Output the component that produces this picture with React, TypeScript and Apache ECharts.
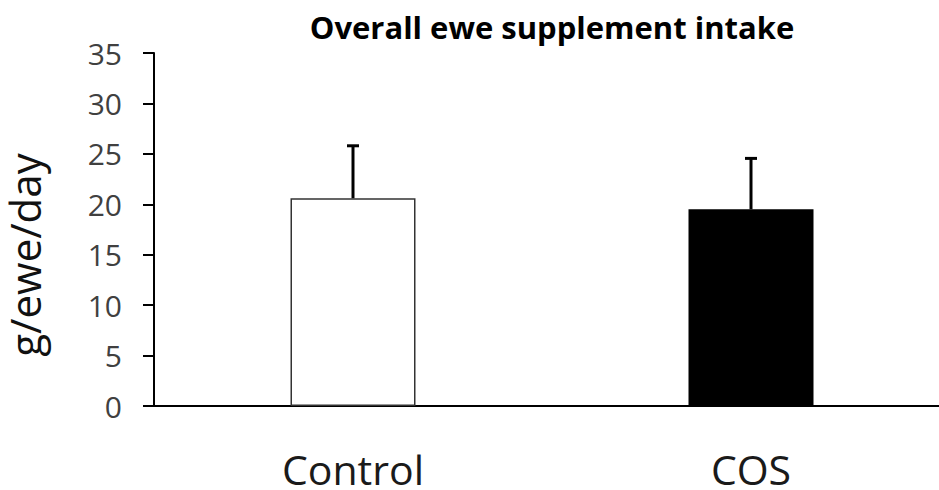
import React, { useEffect, useRef } from "react";
import * as echarts from "echarts";

const categories = ["Control", "COS"];
const means = [20.6, 19.5];
const errors = [5.2, 5.05];
const barColors = ["#ffffff", "#000000"];
const titleText = "Overall ewe supplement intake";
const yAxisTitle = "g/ewe/day";

export default function App() {
  const ref = useRef<HTMLDivElement>(null);
  useEffect(() => {
    if (!ref.current) return;
    const chart = echarts.init(ref.current, null, { renderer: "svg" });
    const font = "'Open Sans', sans-serif";
    chart.setOption({
      animation: false,
      backgroundColor: "#ffffff",
      title: {
        text: titleText,
        left: 547,
        top: 4,
        textAlign: "center",
        textStyle: { fontFamily: font, fontSize: 31, lineHeight: 36, fontWeight: "bold", color: "#000" },
      },
      graphic: [
        {
          type: "text",
          x: 24,
          y: 255,
          rotation: Math.PI / 2,
          style: {
            text: yAxisTitle,
            fontFamily: font,
            fontSize: 42,
            lineHeight: 40,
            fill: "#111",
            textAlign: "center",
            textVerticalAlign: "middle",
          },
        },
      ],
      grid: { left: 154, right: 0, top: 53, bottom: 84, containLabel: false },
      xAxis: {
        type: "category",
        data: categories,
        axisLine: { lineStyle: { color: "#000", width: 2 } },
        axisTick: { show: false },
        axisLabel: { fontFamily: font, fontSize: 41, lineHeight: 36, color: "#1a1a1a", margin: 45 },
      },
      yAxis: {
        type: "value",
        min: 0,
        max: 35,
        interval: 5,
        axisLine: { show: true, lineStyle: { color: "#000", width: 2 } },
        axisTick: { show: true, length: 11, lineStyle: { color: "#000", width: 2 } },
        splitLine: { show: false },
        axisLabel: { fontFamily: font, fontSize: 30, color: "#404040", margin: 32 },
      },
      series: [
        {
          type: "bar",
          barWidth: 125,
          data: means.map((v, i) => ({
            value: v,
            itemStyle: {
              color: barColors[i],
              borderColor: i === 0 ? "#333" : "#000",
              borderWidth: i === 0 ? 1.5 : 0,
            },
          })),
          z: 2,
        },
        {
          type: "custom",
          z: 3,
          data: means.map((m, i) => [i, m, m + errors[i]]),
          renderItem: (params: any, api: any) => {
            const x = api.value(0);
            const base = api.coord([x, api.value(1)]);
            const top = api.coord([x, api.value(2)]);
            const cap = 6;
            return {
              type: "group",
              children: [
                {
                  type: "line",
                  shape: { x1: base[0], y1: base[1], x2: top[0], y2: top[1] },
                  style: { stroke: "#000", lineWidth: 3 },
                },
                {
                  type: "line",
                  shape: { x1: top[0] - cap, y1: top[1], x2: top[0] + cap, y2: top[1] },
                  style: { stroke: "#000", lineWidth: 3 },
                },
              ],
            };
          },
        },
      ],
    });
    return () => chart.dispose();
  }, []);
  return (
    <div
      style={{ position: "absolute", left: 0, top: 0, width: 939, height: 490, overflow: "hidden" }}
    >
      <div ref={ref} style={{ width: 950, height: 490 }} />
    </div>
  );
}
